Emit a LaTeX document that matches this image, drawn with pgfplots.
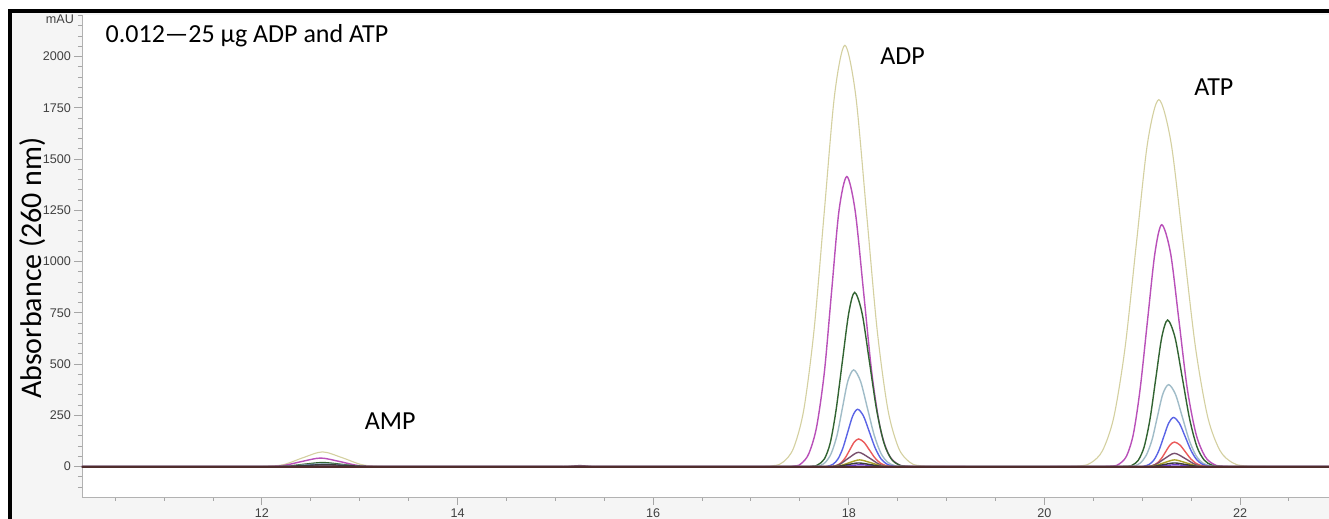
\documentclass[border=0pt]{standalone}
\usepackage{fontspec}
\setmainfont{Carlito}
\newfontfamily\tickfont{Liberation Sans}
\usepackage{pgfplots}
\pgfplotsset{compat=1.18}

\definecolor{cbeige}{RGB}{212,208,160}
\definecolor{cmag}{RGB}{185,80,185}
\definecolor{cgreen}{RGB}{50,100,50}
\definecolor{clblue}{RGB}{160,188,200}
\definecolor{cblue}{RGB}{90,100,230}
\definecolor{cred}{RGB}{235,90,90}
\definecolor{cbrown}{RGB}{120,80,110}
\definecolor{colive}{RGB}{170,160,40}
\definecolor{cviolet}{RGB}{110,60,200}
\definecolor{cdark}{RGB}{60,60,60}
\definecolor{cbase}{RGB}{80,45,45}

\begin{document}
\begin{tikzpicture}
\useasboundingbox (-41pt,-11pt) rectangle (623.5pt,248.5pt);
\fill[black!4] (-36pt,-11pt) rectangle (623.5pt,243pt);
\draw[line width=1.6pt] (-36pt,-12pt) -- (-36pt,243pt) -- (624pt,243pt);
\begin{axis}[
    name=ax,
    at={(0,0)}, anchor=south west,
    scale only axis,
    width=623.5pt, height=241pt,
    xmin=10.16, xmax=22.91,
    ymin=-148, ymax=2203,
    axis lines=left,
    axis line style={-, draw=gray!60},
    xtick={12,14,...,22},
    minor xtick={10.5,11,...,23},
    ytick={0,250,...,2000},
    minor ytick={-100,-50,...,2200},
    tick align=outside,
    major tick length=4pt, minor tick length=2pt,
    tick style={draw=gray!70, line width=0.5pt},
    ticklabel style={font=\tickfont\fontsize{6.3}{7}\selectfont, text=black!75},
    yticklabel style={xshift=2pt},
    xticklabel style={yshift=1.5pt},
    /pgf/number format/assume math mode=true,
    /pgf/number format/1000 sep={},
    axis background/.style={fill=white},
    every axis plot/.append style={line width=0.7pt, smooth, mark=none},
]
% beige
\addplot[cbeige, line width=0.55pt] coordinates {
(10.0,0) (11.8,0) (12.02,0.8) (12.22,9.7) (12.42,43.7) (12.62,72) (12.82,43.7) (13.02,9.7) (13.22,0.8) (13.6,0) (16.9,0)
(17.225,4.5) (17.33,22.8) (17.435,90.2) (17.54,278) (17.645,667) (17.75,1246) (17.855,1814) (17.96,2055) (18.07,1814) (18.18,1246) (18.29,667) (18.40,278) (18.51,90.2) (18.62,22.8) (18.73,4.5) (19.1,0) (20.0,0)
(20.365,3.9) (20.48,19.9) (20.595,78.6) (20.71,242) (20.825,581) (20.94,1086) (21.055,1580) (21.17,1790) (21.295,1580) (21.42,1086) (21.545,581) (21.67,242) (21.795,78.6) (21.92,19.9) (22.045,3.9) (22.4,0) (23.5,0)
};
% magenta
\addplot[cmag] coordinates {
(10.0,0) (11.8,0) (12.03,0.5) (12.22,5.7) (12.41,25.5) (12.60,42) (12.79,25.5) (12.98,5.7) (13.17,0.5) (13.5,0) (17.1,0)
(17.44,3.1) (17.515,15.7) (17.59,62.1) (17.67,191.4) (17.75,459.5) (17.825,858.2) (17.90,1248.7) (17.98,1415) (18.065,1248.7) (18.15,858.2) (18.235,459.5) (18.32,191.4) (18.405,62.1) (18.49,15.7) (18.575,3.1) (18.9,0) (20.4,0)
(20.69,2.6) (20.765,13.1) (20.84,51.8) (20.91,159.7) (20.98,383.1) (21.055,715.7) (21.13,1041.4) (21.20,1180) (21.29,1041.4) (21.375,715.7) (21.46,383.1) (21.55,159.7) (21.64,51.8) (21.725,13.1) (21.81,2.6) (22.1,0) (23.5,0)
};
% dark green
\addplot[cgreen] coordinates {
(10.0,0) (11.8,0) (12.08,0.2) (12.26,2.7) (12.44,12.1) (12.62,20) (12.80,12.1) (12.98,2.7) (13.16,0.2) (13.5,0) (17.3,0)
(17.62,1.9) (17.685,9.4) (17.75,37.3) (17.81,115) (17.87,276) (17.935,515.5) (18.00,750.1) (18.06,850) (18.135,750.1) (18.21,515.5) (18.285,276) (18.36,115) (18.435,37.3) (18.51,9.4) (18.585,1.9) (18.9,0) (20.5,0)
(20.84,1.6) (20.90,7.9) (20.96,31.4) (21.02,96.7) (21.08,232.2) (21.14,433.6) (21.20,631) (21.26,715) (21.335,631) (21.41,433.6) (21.485,232.2) (21.56,96.7) (21.635,31.4) (21.71,7.9) (21.785,1.6) (22.1,0) (23.5,0)
};
% light blue-grey
\addplot[clblue] coordinates {
(10.0,0) (11.8,0) (12.08,0.2) (12.26,1.9) (12.44,8.5) (12.62,14) (12.80,8.5) (12.98,1.9) (13.16,0.2) (13.5,0) (17.3,0)
(17.65,1.0) (17.705,5.2) (17.76,20.7) (17.82,63.9) (17.88,153.3) (17.935,286.3) (17.99,416.5) (18.05,472) (18.12,416.5) (18.19,286.3) (18.26,153.3) (18.33,63.9) (18.40,20.7) (18.47,5.2) (18.54,1.0) (18.9,0) (20.5,0)
(20.87,0.9) (20.925,4.4) (20.98,17.6) (21.04,54.1) (21.10,129.9) (21.155,242.6) (21.21,353) (21.27,400) (21.34,353) (21.41,242.6) (21.48,129.9) (21.55,54.1) (21.62,17.6) (21.69,4.4) (21.76,0.9) (22.1,0) (23.5,0)
};
% blue
\addplot[cblue] coordinates {
(10.0,0) (11.8,0) (12.09,0.1) (12.27,1.2) (12.45,5.5) (12.63,9) (12.81,5.5) (12.99,1.2) (13.17,0.1) (13.5,0) (17.4,0)
(17.74,0.6) (17.79,3.1) (17.84,12.3) (17.89,37.9) (17.94,90.9) (17.99,169.8) (18.04,247.1) (18.09,280) (18.15,247.1) (18.21,169.8) (18.27,90.9) (18.33,37.9) (18.39,12.3) (18.45,3.1) (18.51,0.6) (18.9,0) (20.6,0)
(20.97,0.5) (21.02,2.7) (21.07,10.5) (21.12,32.5) (21.17,77.9) (21.22,145.6) (21.27,211.8) (21.32,240) (21.38,211.8) (21.44,145.6) (21.50,77.9) (21.56,32.5) (21.62,10.5) (21.68,2.7) (21.74,0.5) (22.1,0) (23.5,0)
};
% red
\addplot[cred] coordinates {
(10.0,0) (12.0,0) (12.27,0.7) (12.45,3) (12.63,5) (12.81,3) (12.99,0.7) (13.3,0) (17.4,0)
(17.785,0.3) (17.83,1.5) (17.875,5.9) (17.92,18.3) (17.965,43.8) (18.01,81.9) (18.055,119.1) (18.10,135) (18.155,119.1) (18.21,81.9) (18.265,43.8) (18.32,18.3) (18.375,5.9) (18.43,1.5) (18.485,0.3) (18.9,0) (20.6,0)
(21.015,0.3) (21.06,1.3) (21.105,5.3) (21.15,16.2) (21.195,39) (21.24,72.8) (21.285,105.9) (21.33,120) (21.385,105.9) (21.44,72.8) (21.495,39) (21.55,16.2) (21.605,5.3) (21.66,1.3) (21.715,0.3) (22.1,0) (23.5,0)
};
% brown-purple
\addplot[cbrown] coordinates {
(10.0,0) (12.1,0) (12.4,2) (12.63,4) (12.86,2) (13.2,0) (14.9,0) (15.1,0) (15.25,5) (15.4,0) (15.6,0) (17.5,0)
(17.80,0.8) (17.90,9.5) (18.00,42.5) (18.10,70) (18.21,42.5) (18.32,9.5) (18.43,0.8) (18.9,0) (20.7,0)
(21.03,0.7) (21.13,8.8) (21.23,39.4) (21.33,65) (21.44,39.4) (21.55,8.8) (21.66,0.7) (22.1,0) (23.5,0)
};
% olive
\addplot[colive] coordinates {
(10.0,0) (17.5,0) (17.81,0.4) (17.91,4.5) (18.01,20) (18.11,33) (18.22,20) (18.33,4.5) (18.44,0.4) (18.9,0) (20.7,0)
(21.03,0.4) (21.13,4.5) (21.23,20) (21.33,33) (21.44,20) (21.55,4.5) (21.66,0.4) (22.1,0) (23.5,0)
};
% violet
\addplot[cviolet] coordinates {
(10.0,0) (17.5,0) (17.82,0.1) (17.92,1.2) (18.02,5.5) (18.12,9) (18.23,5.5) (18.34,1.2) (18.45,0.1) (18.9,0) (20.7,0)
(21.04,0.1) (21.14,1.2) (21.24,5.5) (21.34,9) (21.45,5.5) (21.56,1.2) (21.67,0.1) (22.1,0) (23.5,0)
};
% dark
\addplot[cdark] coordinates {
(10.0,0) (11.9,0) (12.25,1.4) (12.45,6) (12.65,10) (12.85,6) (13.05,1.4) (13.4,0) (17.5,0)
(17.80,0.2) (17.90,2.4) (18.00,10.9) (18.10,18) (18.21,10.9) (18.32,2.4) (18.43,0.2) (18.9,0) (20.7,0)
(21.03,0.2) (21.13,2.4) (21.23,10.9) (21.33,18) (21.44,10.9) (21.55,2.4) (21.66,0.2) (22.1,0) (23.5,0)
};
% baseline
\addplot[cbase, line width=0.9pt, sharp plot] coordinates {(10.0,0) (23.5,0)};

\node[anchor=base west, font=\fontsize{13}{15}\selectfont] at (axis cs:10.33,2067) {0.012—25 µg ADP and ATP};
\node[anchor=base west, font=\fontsize{13}{15}\selectfont] at (axis cs:18.25,1960) {ADP};
\node[anchor=base west, font=\fontsize{13}{15}\selectfont] at (axis cs:21.46,1812) {ATP};
\node[anchor=base west, font=\fontsize{13}{15}\selectfont] at (axis cs:12.98,179) {AMP};
\end{axis}
\node[anchor=east, font=\tickfont\fontsize{6.3}{7}\selectfont, text=black!75] at ([xshift=-0.5pt,yshift=-2pt]ax.north west) {mAU};
\node[rotate=90, anchor=base, font=\fontsize{15}{17}\selectfont] at (-20.5pt,114.5pt) {Absorbance (260 nm)};
\end{tikzpicture}
\end{document}
